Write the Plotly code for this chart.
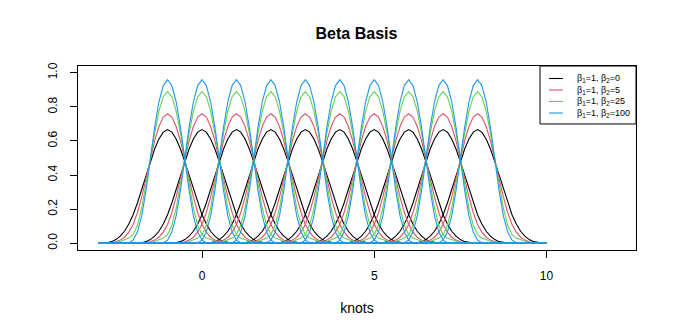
import plotly.graph_objects as go

# knot centres of the basis functions
knots = [-1, 0, 1, 2, 3, 4, 5, 6, 7, 8]
x_span = [-3, 10]

# distance from the knot (half profile, mirrored for the left side)
offsets = [0, 0.125, 0.25, 0.375, 0.5, 0.625, 0.75, 0.875, 1.0,
           1.125, 1.25, 1.375, 1.5, 1.625, 1.75, 1.875, 2.0]

# basis heights, one list per beta setting
beta2_0 = [0.667, 0.652, 0.612, 0.553, 0.479, 0.398, 0.315, 0.236, 0.167,
           0.112, 0.070, 0.041, 0.021, 0.009, 0.003, 0.0003, 0]
beta2_5 = [0.76, 0.74, 0.685, 0.60, 0.49, 0.375, 0.27, 0.18, 0.11,
           0.065, 0.035, 0.018, 0.008, 0.003, 0.001, 0, 0]
beta2_25 = [0.89, 0.86, 0.775, 0.645, 0.495, 0.34, 0.205, 0.105, 0.05,
            0.03, 0.02, 0.01, 0.003, 0, 0, 0, 0]
beta2_100 = [0.96, 0.925, 0.83, 0.68, 0.495, 0.31, 0.16, 0.065, 0.018,
             0.003, 0, 0, 0, 0, 0, 0, 0]

labels = ["β<sub>1</sub>=1, β<sub>2</sub>=0", "β<sub>1</sub>=1, β<sub>2</sub>=5",
          "β<sub>1</sub>=1, β<sub>2</sub>=25", "β<sub>1</sub>=1, β<sub>2</sub>=100"]
profiles = [beta2_0, beta2_5, beta2_25, beta2_100]
colors = ["#000000", "#DF536B", "#61D04F", "#2297E6"]

fig = go.Figure()

for prof, col in zip(profiles, colors):
    for k in knots:
        xs = [x_span[0]] + [k - o for o in offsets[::-1]] + [k + o for o in offsets[1:]] + [x_span[1]]
        ys = [0] + prof[::-1] + prof[1:] + [0]
        fig.add_trace(go.Scatter(
            x=xs, y=ys, mode="lines",
            line=dict(color=col, width=1.1),
            showlegend=False, hoverinfo="skip",
        ))

# R-style legend box drawn in the top-right corner of the plot area
fig.add_shape(type="rect", xref="x domain", yref="y domain",
              x0=0.828, x1=1.0, y0=0.685, y1=1.0,
              line=dict(color="black", width=1), fillcolor="white", layer="above")
for i, (lab, col) in enumerate(zip(labels, colors)):
    yy = 1 - (12.5 + 11.5 * i) / 184
    fig.add_shape(type="line", xref="x domain", yref="y domain",
                  x0=0.844, x1=0.869, y0=yy, y1=yy,
                  line=dict(color=col, width=1.1), layer="above")
    fig.add_annotation(xref="x domain", yref="y domain", x=0.890, y=yy,
                       text=lab, showarrow=False, xanchor="left", yanchor="middle",
                       font=dict(size=9))

font = "Liberation Sans, Arial, sans-serif"

fig.update_layout(
    width=686, height=325,
    margin=dict(l=70, r=58, t=58, b=83),
    paper_bgcolor="white", plot_bgcolor="white",
    font=dict(family=font, size=12, color="black"),
    title=dict(text="<b>Beta Basis</b>", x=0.508, xanchor="center",
               y=0.923, yanchor="middle", font=dict(size=16)),
    showlegend=False,
)

fig.update_xaxes(
    range=[-3.6, 12.6], tickvals=[0, 5, 10], showgrid=False, zeroline=False,
    showline=True, linecolor="black", linewidth=1, mirror=True,
    ticks="outside", ticklen=7, tickcolor="black",
    ticklabelstandoff=8, automargin=False,
    title=dict(text="knots", standoff=20),
)
fig.update_yaxes(
    range=[-0.04, 1.04], tickvals=[0, 0.2, 0.4, 0.6, 0.8, 1.0],
    ticktext=["0.0", "0.2", "0.4", "0.6", "0.8", "1.0"],
    tickangle=-90, showgrid=False, zeroline=False,
    showline=True, linecolor="black", linewidth=1, mirror=True,
    ticks="outside", ticklen=7, tickcolor="black",
    ticklabelstandoff=8, automargin=False,
)

fig.write_html("out.html")
